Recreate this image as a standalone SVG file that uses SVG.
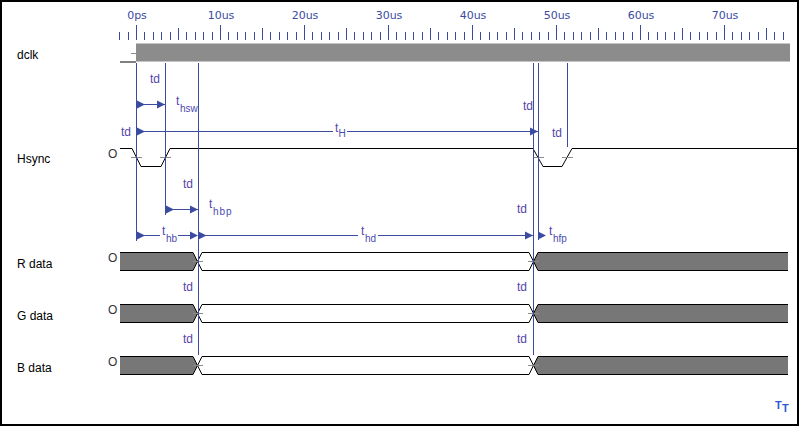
<svg xmlns="http://www.w3.org/2000/svg" xmlns:xlink="http://www.w3.org/1999/xlink" width="800" height="428" viewBox="0 0 800 428">
<style>
.ruler{font-family:"DejaVu Sans",sans-serif;font-size:11px;fill:#3b4ba0;text-anchor:middle}
.tick{stroke:#3b4ba0;stroke-width:1;fill:none}
.sig{font-family:"Liberation Sans",Arial,sans-serif;font-size:12px;fill:#000}
.init{font-family:"Liberation Sans",Arial,sans-serif;font-size:12px;fill:#333}
.wave{stroke:#000;stroke-width:1;fill:none}
.mid{stroke:#8c8c8c;stroke-width:1;fill:none}
.bus{fill:#777}
.busw{fill:#fff;stroke:#000;stroke-width:1}
.tl{stroke:#3b4ba0;stroke-width:1;fill:none}
.ann{font-family:"Liberation Sans",Arial,sans-serif;font-size:12px;fill:#5544aa}
.sub{font-family:"Liberation Sans",Arial,sans-serif;font-size:10px;fill:#4a4ab0}
.tri{fill:#3b4ba0}
.logo{font-family:"Liberation Sans",Arial,sans-serif;font-size:11px;font-weight:bold;fill:#2a5bd7}
</style>
<defs>
<path id="tri" class="tri" d="M0,-4 L8,0 L0,4 Z"/>
</defs>
<rect x="0" y="0" width="800" height="428" fill="#fff"/>
<rect x="1" y="1" width="797" height="424" fill="none" stroke="#000" stroke-width="2"/>

<g id="ruler">
<path class="tick" d="M119.5,32V40M128.5,32V40M144.5,32V40M153.5,32V40M161.5,32V40M170.5,32V40M186.5,32V40M195.5,32V40M203.5,32V40M212.5,32V40M228.5,32V40M237.5,32V40M245.5,32V40M254.5,32V40M270.5,32V40M279.5,32V40M287.5,32V40M296.5,32V40M312.5,32V40M321.5,32V40M329.5,32V40M338.5,32V40M354.5,32V40M363.5,32V40M371.5,32V40M380.5,32V40M396.5,32V40M405.5,32V40M413.5,32V40M422.5,32V40M438.5,32V40M447.5,32V40M455.5,32V40M464.5,32V40M480.5,32V40M489.5,32V40M497.5,32V40M506.5,32V40M522.5,32V40M531.5,32V40M539.5,32V40M548.5,32V40M564.5,32V40M573.5,32V40M581.5,32V40M590.5,32V40M606.5,32V40M615.5,32V40M623.5,32V40M632.5,32V40M648.5,32V40M657.5,32V40M665.5,32V40M674.5,32V40M690.5,32V40M699.5,32V40M707.5,32V40M716.5,32V40M732.5,32V40M741.5,32V40M749.5,32V40M758.5,32V40M774.5,32V40M783.5,32V40"/>
<path class="tick" d="M178.5,28V40M262.5,28V40M346.5,28V40M430.5,28V40M514.5,28V40M598.5,28V40M682.5,28V40M766.5,28V40"/>
<path class="tick" d="M136.5,25V40M220.5,25V40M304.5,25V40M388.5,25V40M472.5,25V40M556.5,25V40M640.5,25V40M724.5,25V40"/>
<text class="ruler" x="137" y="19">0ps</text>
<text class="ruler" x="221" y="19">10us</text>
<text class="ruler" x="305" y="19">20us</text>
<text class="ruler" x="389" y="19">30us</text>
<text class="ruler" x="473" y="19">40us</text>
<text class="ruler" x="557" y="19">50us</text>
<text class="ruler" x="641" y="19">60us</text>
<text class="ruler" x="725" y="19">70us</text>
</g>

<g id="dclk">
<text class="sig" x="17" y="59">dclk</text>
<rect x="136" y="43.5" width="654" height="18" fill="#8c8c8c"/>
<path class="wave" d="M120,62 H136"/>
<path class="mid" d="M131,53.5 H136"/>
</g>

<g id="hsync">
<text class="sig" x="17" y="163">Hsync</text>
<text class="init" x="108" y="158">O</text>
<path class="wave" d="M120,148.5 H132 L141,166.5 H161 L170,148.5 H533 L543,166.5 H562 L572,148.5 H797"/>
<path class="mid" d="M131,157.5 H142 M160,157.5 H171 M533,157.5 H544 M562,157.5 H573"/>
</g>

<g id="rdata">
<text class="sig" x="17" y="268">R data</text>
<text class="init" x="108" y="262">O</text>
<polygon class="bus" points="120,252.5 193,252.5 197.5,261.5 193,270.5 120,270.5"/>
<polyline class="wave" points="120,252.5 193,252.5 197.5,261.5 193,270.5 120,270.5"/>
<polygon class="busw" points="202,252.5 529,252.5 533.5,261.5 529,270.5 202,270.5 197.5,261.5"/>
<polygon class="bus" points="538,252.5 788,252.5 788,270.5 538,270.5 533.5,261.5"/>
<polyline class="wave" points="788,252.5 538,252.5 533.5,261.5 538,270.5 788,270.5"/>
<path class="mid" d="M193,261.5 H203 M528,261.5 H539"/>
</g>

<g id="gdata">
<text class="sig" x="17" y="320">G data</text>
<text class="init" x="108" y="314">O</text>
<polygon class="bus" points="120,304.5 193,304.5 197.5,313.5 193,322.5 120,322.5"/>
<polyline class="wave" points="120,304.5 193,304.5 197.5,313.5 193,322.5 120,322.5"/>
<polygon class="busw" points="202,304.5 529,304.5 533.5,313.5 529,322.5 202,322.5 197.5,313.5"/>
<polygon class="bus" points="538,304.5 788,304.5 788,322.5 538,322.5 533.5,313.5"/>
<polyline class="wave" points="788,304.5 538,304.5 533.5,313.5 538,322.5 788,322.5"/>
<path class="mid" d="M193,313.5 H203 M528,313.5 H539"/>
</g>

<g id="bdata">
<text class="sig" x="17" y="372">B data</text>
<text class="init" x="108" y="366">O</text>
<polygon class="bus" points="120,356.5 193,356.5 197.5,365.5 193,374.5 120,374.5"/>
<polyline class="wave" points="120,356.5 193,356.5 197.5,365.5 193,374.5 120,374.5"/>
<polygon class="busw" points="202,356.5 529,356.5 533.5,365.5 529,374.5 202,374.5 197.5,365.5"/>
<polygon class="bus" points="538,356.5 788,356.5 788,374.5 538,374.5 533.5,365.5"/>
<polyline class="wave" points="788,356.5 538,356.5 533.5,365.5 538,374.5 788,374.5"/>
<path class="mid" d="M193,365.5 H203 M528,365.5 H539"/>
</g>

<g id="connectors">
<path class="tl" d="M136.5,63 V241 M165.5,63 V215 M198.5,63 V355 M533.5,63 V355 M538.5,63 V240 M567.5,63 V147"/>
<path class="tl" d="M136.5,104.5 H165"/>
<use xlink:href="#tri" x="137" y="104.5"/>
<use xlink:href="#tri" x="157" y="104.5"/>
<path class="tl" d="M136.5,131.5 H333 M347,131.5 H538"/>
<use xlink:href="#tri" x="137" y="131.5"/>
<use xlink:href="#tri" x="530" y="131.5"/>
<path class="tl" d="M165.5,209.5 H198"/>
<use xlink:href="#tri" x="166" y="209.5"/>
<use xlink:href="#tri" x="190" y="209.5"/>
<path class="tl" d="M136.5,235.5 H160 M178,235.5 H190 M198,235.5 H358 M378,235.5 H533"/>
<use xlink:href="#tri" x="137" y="235.5"/>
<use xlink:href="#tri" x="190" y="235.5"/>
<use xlink:href="#tri" x="198.5" y="235.5"/>
<use xlink:href="#tri" x="525" y="235.5"/>
<use xlink:href="#tri" x="538" y="235.5"/>
</g>

<g id="annotations">
<text class="ann" x="150" y="83">td</text>
<text class="ann" x="176" y="105">t</text><text class="sub" x="180" y="112">hsw</text>
<text class="ann" x="121" y="136">td</text>
<text class="ann" x="335" y="132">t</text><text class="sub" x="338.5" y="137">H</text>
<text class="ann" x="523" y="110">td</text>
<text class="ann" x="552" y="137">td</text>
<text class="ann" x="183" y="188">td</text>
<text class="ann" x="209" y="208">t</text><text class="sub" x="213" y="215" letter-spacing="1">hbp</text>
<text class="ann" x="162" y="235">t</text><text class="sub" x="166" y="242">hb</text>
<text class="ann" x="361" y="235">t</text><text class="sub" x="365" y="242">hd</text>
<text class="ann" x="517" y="213">td</text>
<text class="ann" x="549" y="235">t</text><text class="sub" x="553" y="242">hfp</text>
<text class="ann" x="183" y="291">td</text>
<text class="ann" x="183" y="343">td</text>
<text class="ann" x="517" y="291">td</text>
<text class="ann" x="517" y="343">td</text>
</g>

<g id="logo">
<text class="logo" x="775" y="409">T</text>
<text class="logo" x="782" y="412">T</text>
</g>
</svg>
